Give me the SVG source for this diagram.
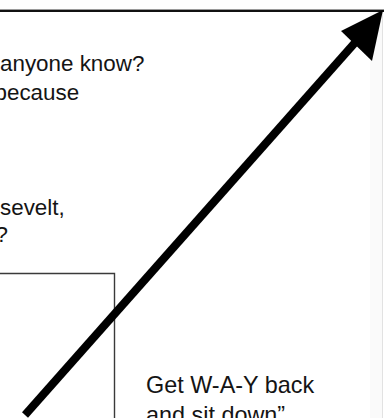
<svg xmlns="http://www.w3.org/2000/svg" width="385" height="418" viewBox="0 0 385 418">
  <style>
    .t { font-family: "Liberation Sans", Arial, sans-serif; font-size: 22.4px; fill: #141414; }
    .tb { font-size: 23.4px; }
    .frame { stroke: #111; fill: none; }
    .box { stroke: #3a3a3a; stroke-width: 1.4; fill: none; }
  </style>
  <rect x="0" y="0" width="385" height="418" fill="#fff"/>
  <g id="frame">
    <rect x="370" y="11" width="12" height="407" fill="#fafafa"/>
    <line x1="382.5" y1="11" x2="382.5" y2="418" stroke="#e2e2e2" stroke-width="1"/>
    <line x1="0" y1="9.5" x2="384" y2="9.5" stroke="#9a9a9a" stroke-width="1"/>
    <line class="frame" x1="0" y1="11" x2="384" y2="11" stroke-width="2"/>
  </g>
  <g id="box">
    <polyline class="box" points="0,273.5 114.5,273.5 114.5,418"/>
  </g>
  <g id="text-top">
    <text class="t" x="0" y="71">anyone know?</text>
    <text class="t" x="-5.5" y="100">because</text>
  </g>
  <g id="text-mid">
    <text class="t" x="0" y="215">sevelt,</text>
    <text class="t" x="-4.5" y="242">?</text>
  </g>
  <g id="text-bottom">
    <text class="t tb" x="146" y="393">Get W-A-Y back</text>
    <text class="t tb" x="146" y="423">and sit down”</text>
  </g>
  <g id="connectors">
    <line x1="25" y1="415" x2="360" y2="37" stroke="#000" stroke-width="8" stroke-linecap="butt"/>
    <polygon points="383,10 341,31 372,61" fill="#000"/>
  </g>
</svg>
